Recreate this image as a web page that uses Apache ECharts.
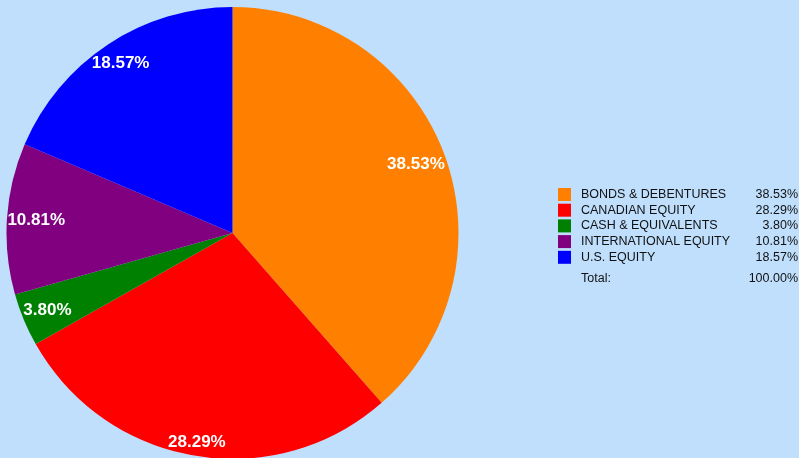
<!DOCTYPE html>
<html><head><meta charset="utf-8">
<script src="https://cdn.jsdelivr.net/npm/echarts@6/dist/echarts.min.js"></script>
<style>html,body{margin:0;padding:0;background:#bfdffd;}#c{width:799px;height:458px;}</style>
</head><body><div id="c"></div>
<script>
const categories = ['BONDS & DEBENTURES','CANADIAN EQUITY','CASH & EQUIVALENTS','INTERNATIONAL EQUITY','U.S. EQUITY'];
const values = [38.53, 28.29, 3.80, 10.81, 18.57];
const colors = ['#ff8000','#ff0000','#008000','#800080','#0000ff'];
const totalLabel = 'Total:';

const font = '"Liberation Sans", Arial, sans-serif';
const CX = 232.5, CY = 233, R = 226;
const data = categories.map((n,i)=>({name:n, value:values[i], itemStyle:{color:colors[i]}}));
const total = values.reduce((a,b)=>a+b,0);
const rich = {
  n:{width:150, padding:[0,0,0,5], fontFamily:font, fontSize:12.5, color:'#111', fontWeight:'normal'},
  v:{width:67, align:'right', fontFamily:font, fontSize:12.5, color:'#111', fontWeight:'normal'}
};
const chart = echarts.init(document.getElementById('c'), null, {renderer:'canvas'});
chart.setOption({
  backgroundColor:'#bfdffd',
  animation:false,
  legend:{
    orient:'vertical', left:558, top:188, padding:0, itemWidth:13, itemHeight:13, itemGap:2.7,
    icon:'rect', selectedMode:false,
    data: categories,
    formatter: name => {
      const v = values[categories.indexOf(name)];
      return '{n|'+name+'}{v|'+v.toFixed(2)+'%}';
    },
    textStyle:{ fontFamily:font, fontSize:12.5, color:'#111', rich: rich }
  },
  title:{
    left:576, top:272, padding:0,
    text:'{n|'+totalLabel+'}{v|'+total.toFixed(2)+'%}',
    textStyle:{ fontWeight:'normal', fontSize:12.5, rich: rich }
  },
  series:[
    {
      type:'pie', center:[CX,CY], radius:[0,R], startAngle:90, clockwise:true,
      label:{show:false}, labelLine:{show:false}, silent:true,
      itemStyle:{borderWidth:0},
      data: data
    },
    {
      type:'pie', center:[CX,CY], radius:[174,R], startAngle:90, clockwise:true,
      silent:true, labelLine:{show:false},
      itemStyle:{color:'rgba(0,0,0,0)', borderWidth:0},
      label:{show:true, position:'inside', formatter:p=>p.value.toFixed(2)+'%',
        color:'#fff', fontWeight:'bold', fontSize:17, fontFamily:font},
      labelLayout: function(p){
        const r = p.labelRect;
        const vx = r.x + r.width/2 - CX, vy = r.y + r.height/2 - CY;
        const L = Math.hypot(vx, vy) || 1;
        const ux = vx/L, uy = vy/L;
        const d = R - (Math.abs(ux)*r.width/2 + Math.abs(uy)*r.height/2);
        return {dx: ux*d - vx, dy: uy*d - vy};
      },
      data: categories.map((n,i)=>({name:n, value:values[i], itemStyle:{color:'rgba(0,0,0,0)'}}))
    }
  ]
});
</script></body></html>
